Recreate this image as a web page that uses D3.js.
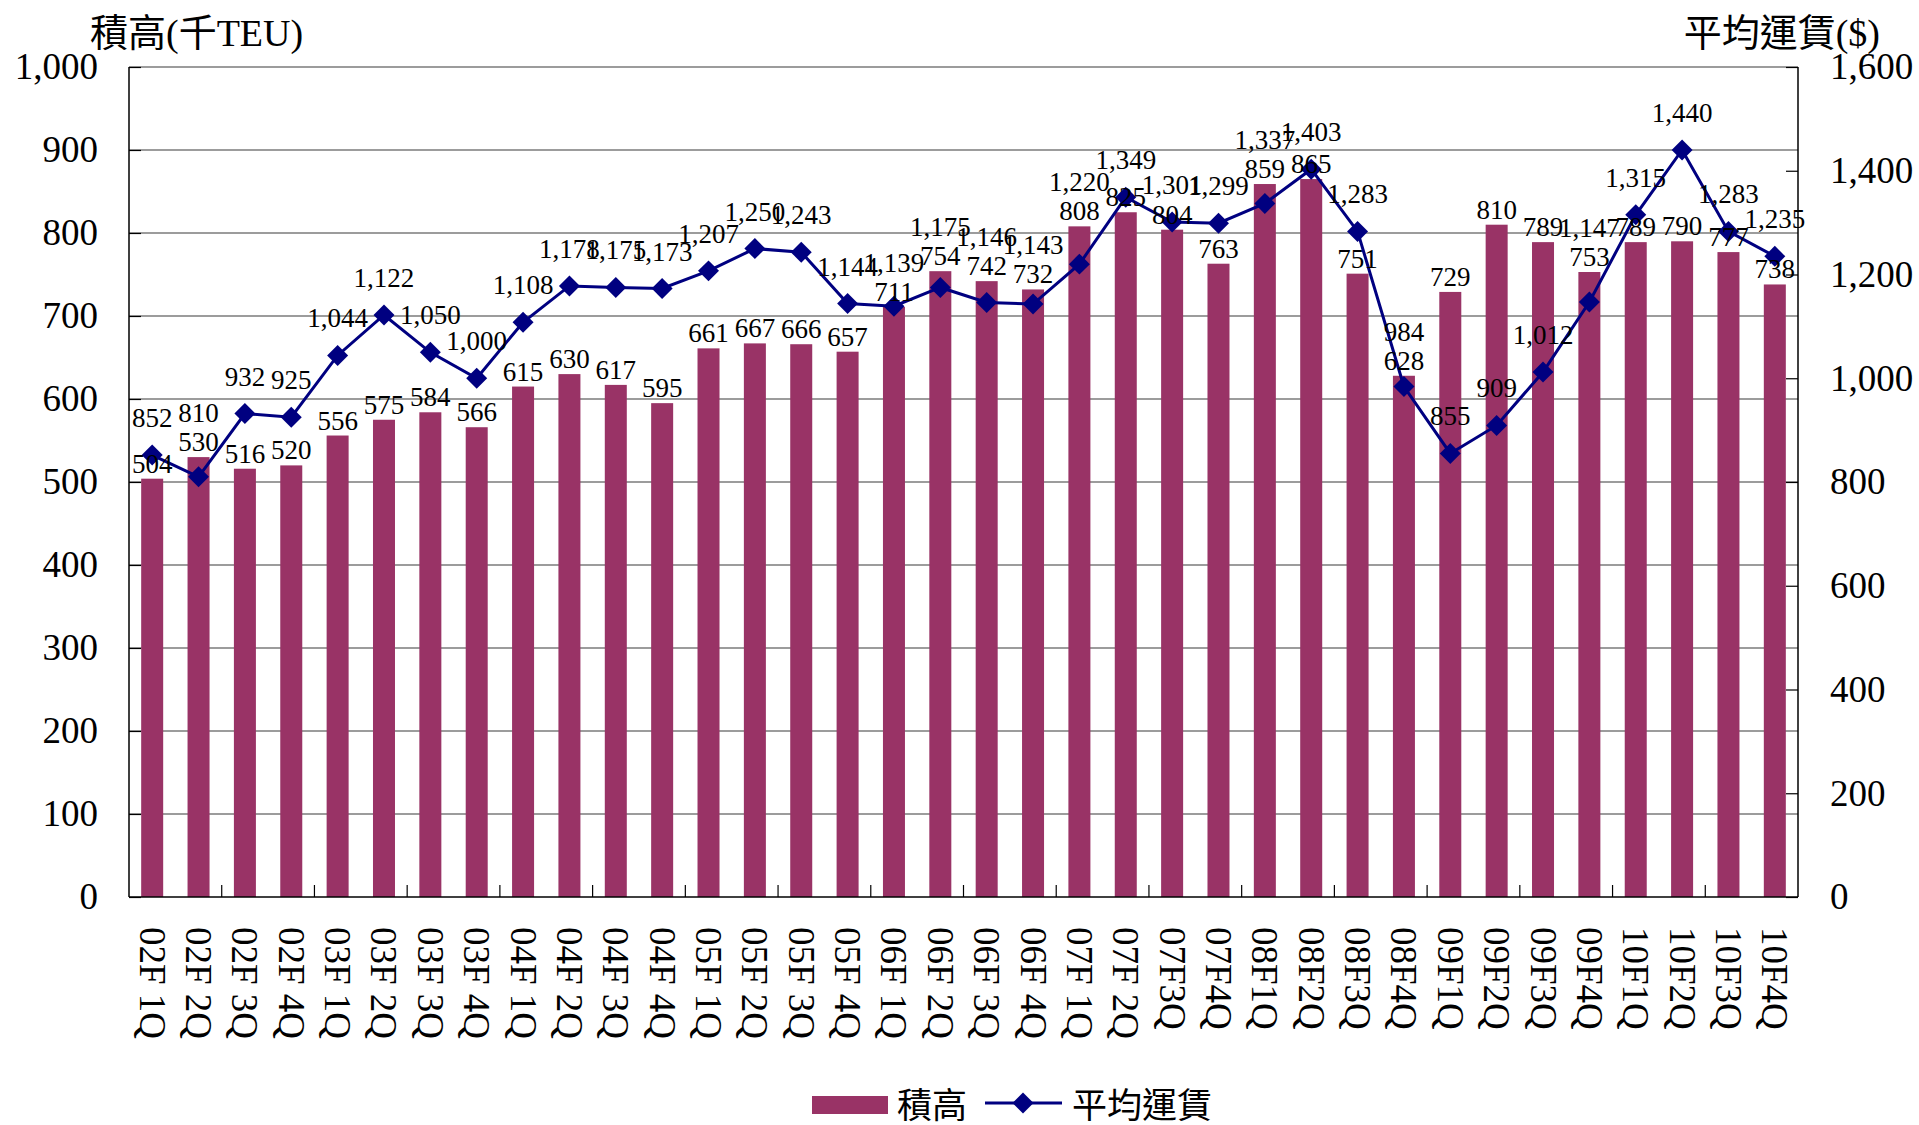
<!DOCTYPE html>
<head>
    <meta charset="utf-8">
    <title>積高 / 平均運賃</title>
    <script src="https://d3js.org/d3.v7.min.js"></script>
    <style>
    body { margin: 0; background: #fff; }
    text { font-family: "Liberation Serif", "Noto Sans CJK TC", serif; fill: #000; }
    </style>
</head>
<body>
<script>
var quarters = ["02F 1Q","02F 2Q","02F 3Q","02F 4Q","03F 1Q","03F 2Q","03F 3Q","03F 4Q",
    "04F 1Q","04F 2Q","04F 3Q","04F 4Q","05F 1Q","05F 2Q","05F 3Q","05F 4Q",
    "06F 1Q","06F 2Q","06F 3Q","06F 4Q","07F 1Q","07F 2Q","07F3Q","07F4Q",
    "08F1Q","08F2Q","08F3Q","08F4Q","09F1Q","09F2Q","09F3Q","09F4Q",
    "10F1Q","10F2Q","10F3Q","10F4Q"];
var volume = [504,530,516,520, 556,575,584,566, 615,630,617,595, 661,667,666,657,
    711,754,742,732, 808,825,804,763, 859,865,751,628, 729,810,789,753, 789,790,777,738];
var freight = [852,810,932,925, 1044,1122,1050,1000, 1108,1178,1175,1173, 1207,1250,1243,1144,
    1139,1175,1146,1143, 1220,1349,1301,1299, 1337,1403,1283,984, 855,909,1012,1147,
    1315,1440,1283,1235];
var leftTicks = d3.range(0, 1001, 100);
var rightTicks = d3.range(0, 1601, 200);

var width = 1919, height = 1125;
// note: "top" is taken by window.top, so plot edges get their own names
var plotL = 129, plotR = 1798, plotT = 67, plotB = 897;
var labelSize = 27;

var svg = d3.select("body").append("svg")
    .attr("width", width)
    .attr("height", height);

var x = d3.scaleBand().domain(quarters).range([plotL, plotR]);
var yL = d3.scaleLinear().domain([0, 1000]).range([plotB, plotT]);
var yR = d3.scaleLinear().domain([0, 1600]).range([plotB, plotT]);
var fmt = d3.format(",");
function cx(i) { return x(quarters[i]) + x.bandwidth() / 2; }

// gridlines
svg.append("g").selectAll("line")
    .data(leftTicks.slice(1))
    .enter().append("line")
    .attr("x1", plotL).attr("x2", plotR)
    .attr("y1", function(d) { return yL(d); })
    .attr("y2", function(d) { return yL(d); })
    .attr("stroke", "#3a3a3a")
    .attr("stroke-width", 1.2);

// bars
svg.append("g").selectAll("rect")
    .data(volume)
    .enter().append("rect")
    .attr("x", function(d, i) { return cx(i) - 11; })
    .attr("width", 22)
    .attr("y", function(d) { return yL(d); })
    .attr("height", function(d) { return plotB - yL(d); })
    .attr("fill", "#993366");

// axes
var axL = svg.append("g").attr("transform", "translate(" + plotL + ",0)")
    .call(d3.axisLeft(yL).tickValues(leftTicks).tickSize(-12).tickPadding(31).tickFormat(fmt));
var axR = svg.append("g").attr("transform", "translate(" + plotR + ",0)")
    .call(d3.axisRight(yR).tickValues(rightTicks).tickSize(-12).tickPadding(32).tickFormat(fmt));
[axL, axR].forEach(function(ax) {
    ax.select(".domain").attr("stroke", "#000").attr("stroke-width", 1.5).attr("d",
        "M0," + plotT + "V" + plotB);
    ax.selectAll(".tick line").attr("stroke", "#000").attr("stroke-width", 1.2);
    ax.selectAll(".tick text").attr("font-size", 37)
        .attr("font-family", "Liberation Serif").attr("fill", "#000");
});

var axB = svg.append("g").attr("transform", "translate(0," + plotB + ")");
axB.append("line").attr("x1", plotL).attr("x2", plotR)
    .attr("stroke", "#000").attr("stroke-width", 1.5);
axB.selectAll("line.tk")
    .data(quarters.filter(function(d, i) { return i > 0 && i % 2 == 0; }))
    .enter().append("line")
    .attr("class", "tk")
    .attr("x1", function(d) { return x(d); })
    .attr("x2", function(d) { return x(d); })
    .attr("y1", 0).attr("y2", -12)
    .attr("stroke", "#000").attr("stroke-width", 1.2);
axB.selectAll("text")
    .data(quarters)
    .enter().append("text")
    .attr("transform", function(d) {
        return "translate(" + (x(d) + x.bandwidth() / 2) + ",30) rotate(90)";
    })
    .attr("dominant-baseline", "central")
    .attr("font-size", 37)
    .text(function(d) { return d; });

// line series
var pts = freight.map(function(d, i) { return [cx(i), yR(d)]; });
svg.append("path")
    .datum(pts)
    .attr("d", d3.line())
    .attr("fill", "none")
    .attr("stroke", "#000080")
    .attr("stroke-width", 3);
svg.append("g").selectAll("path")
    .data(pts)
    .enter().append("path")
    .attr("d", d3.symbol(d3.symbolSquare, 220))
    .attr("transform", function(d) { return "translate(" + d[0] + "," + d[1] + ") rotate(45)"; })
    .attr("fill", "#000080");

// data labels: bar value sits on the bar, price sits over the marker,
// pushed up over the bar value when the two would collide
var barLabelY = volume.map(function(d) { return yL(d) - 6; });
var lineLabelY = freight.map(function(d, i) {
    var y = yR(d) - 28;
    if (Math.abs(y - barLabelY[i]) < labelSize) y = Math.min(y, barLabelY[i] - labelSize - 2);
    return y;
});
svg.append("g").selectAll("text")
    .data(volume)
    .enter().append("text")
    .attr("x", function(d, i) { return cx(i); })
    .attr("y", function(d, i) { return barLabelY[i]; })
    .attr("text-anchor", "middle")
    .attr("font-size", labelSize)
    .text(fmt);
svg.append("g").selectAll("text")
    .data(freight)
    .enter().append("text")
    .attr("x", function(d, i) { return cx(i); })
    .attr("y", function(d, i) { return lineLabelY[i]; })
    .attr("text-anchor", "middle")
    .attr("font-size", labelSize)
    .text(fmt);

// axis titles
svg.append("text").attr("x", 90).attr("y", 46).attr("font-size", 38).text("積高(千TEU)");
svg.append("text").attr("x", 1880).attr("y", 46).attr("font-size", 38)
    .attr("text-anchor", "end").text("平均運賃($)");

// legend
var lg = svg.append("g");
lg.append("rect").attr("x", 812).attr("y", 1096).attr("width", 76).attr("height", 18)
    .attr("fill", "#993366");
lg.append("text").attr("x", 897).attr("y", 1106).attr("dominant-baseline", "central")
    .attr("font-size", 35).text("積高");
lg.append("line").attr("x1", 985).attr("x2", 1062).attr("y1", 1103).attr("y2", 1103)
    .attr("stroke", "#000080").attr("stroke-width", 3);
lg.append("path").attr("d", d3.symbol(d3.symbolSquare, 220))
    .attr("transform", "translate(1023,1103) rotate(45)").attr("fill", "#000080");
lg.append("text").attr("x", 1072).attr("y", 1106).attr("dominant-baseline", "central")
    .attr("font-size", 35).text("平均運賃");
</script>
</body>
